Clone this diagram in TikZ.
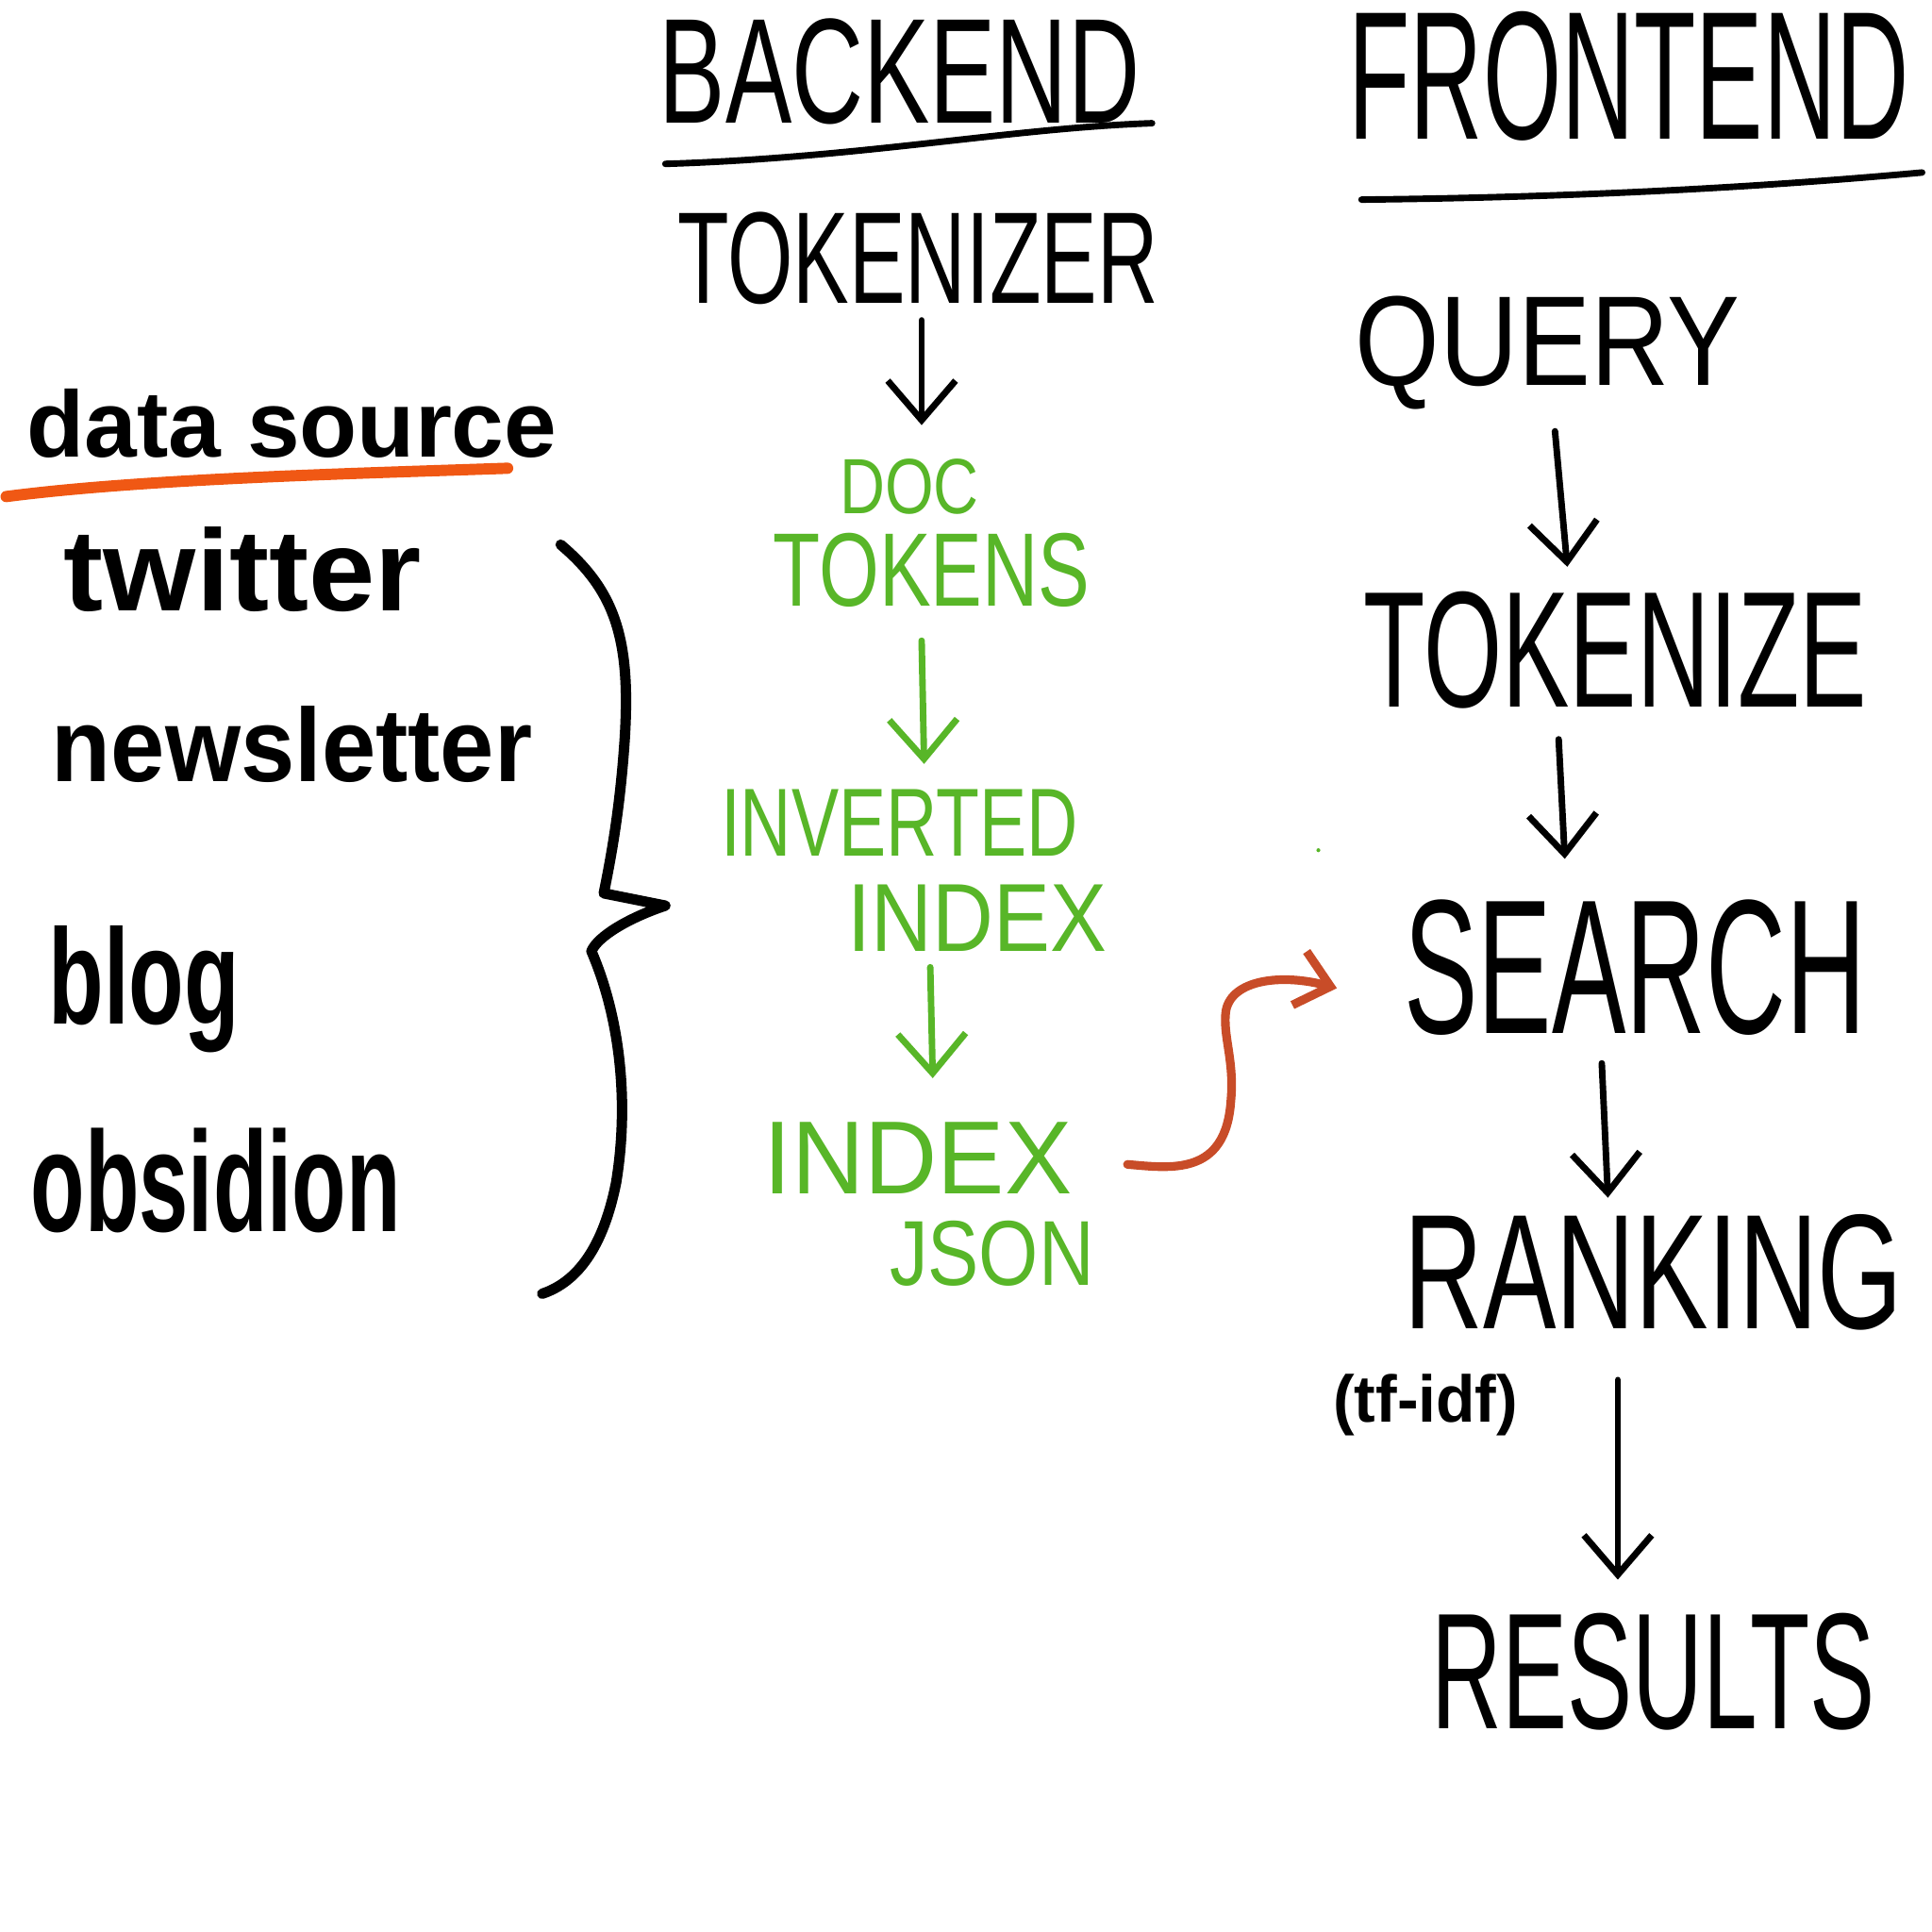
\documentclass[tikz,border=0pt]{standalone}
\usepackage{fontspec}
\setmainfont{Liberation Sans}
\usepackage{graphicx}
\usetikzlibrary{arrows.meta}
\definecolor{hgreen}{RGB}{88,182,40}
\definecolor{horange}{RGB}{240,88,20}
\definecolor{hred}{RGB}{200,76,40}
\newcommand{\hw}[3]{\resizebox*{#1mm}{#2mm}{#3}}
\tikzset{
  lbl/.style={inner sep=0pt, anchor=center},
  blk/.style={lbl, text=black},
  grn/.style={lbl, text=hgreen},
  stroke/.style={line width=1.5pt, line cap=round, line join=round},
  flow/.style={stroke, -{Straight Barb[length=3.2mm,width=5.5mm,line width=1.5pt]}},
}
\begin{document}
\begin{tikzpicture}[x=0.1mm,y=-0.1mm]
\useasboundingbox[fill=white] (0,0) rectangle (1568,1568);

% headings
\node[blk] (backend) at (730,58) {\hw{39}{8.6}{BACKEND}};
\draw[stroke] (540,133) .. controls (700,128) and (820,104) .. (935,100);
\node[blk] (frontend) at (1322,62) {\hw{45.5}{10.5}{FRONTEND}};
\draw[stroke] (1105,162) .. controls (1300,160) and (1450,150) .. (1560,140);

% backend column
\node[blk] (tokenizer) at (745,210) {\hw{39}{7.5}{TOKENIZER}};
\node[grn] (doc) at (738,395) {\hw{11.3}{4.5}{DOC}};
\node[grn] (tokens) at (756,463) {\hw{25.7}{6}{TOKENS}};
\node[grn] (inverted) at (730,668) {\hw{29}{5.4}{INVERTED}};
\node[grn] (index2) at (793,745) {\hw{21}{5.4}{INDEX}};
\node[grn] (indexj) at (745,940) {\hw{25}{5.8}{INDEX}};
\node[grn] (json) at (805,1017) {\hw{16.6}{5.3}{JSON}};

\draw[flow] (748,260) -- (748,345);
\draw[flow, hgreen] (748,520) -- (750,620);
\draw[flow, hgreen] (755,785) -- (757,875);

% data sources
\node[blk] (datasrc) at (237,344) {\hw{43}{5.6}{\bfseries data source}};
\draw[horange, line width=2.6pt, line cap=round] (5,403) .. controls (120,388) and (300,384) .. (412,380);
\node[blk] (twitter) at (197,462) {\hw{29}{6.9}{\bfseries twitter}};
\node[blk] (newsletter) at (237,604) {\hw{39}{6.2}{\bfseries newsletter}};
\node[blk] (blog) at (117,803) {\hw{15.5}{10.3}{\bfseries blog}};
\node[blk] (obsidion) at (175,958) {\hw{30}{8.5}{\bfseries obsidion}};

% brace
\draw[line width=2.4pt, line cap=round, line join=round]
  (455,442) .. controls (500,480) and (512,520) .. (507,600)
  .. controls (503,660) and (495,700) .. (490,725)
  -- (540,735)
  .. controls (510,745) and (485,760) .. (480,772)
  .. controls (505,830) and (510,900) .. (500,960)
  .. controls (490,1010) and (470,1040) .. (440,1050);

% frontend column
\node[blk] (query) at (1256,286) {\hw{31.2}{9.2}{QUERY}};
\node[blk] (tokenize) at (1311,528) {\hw{40.8}{9.5}{TOKENIZE}};
\node[blk] (search) at (1327,785) {\hw{37.5}{11}{SEARCH}};
\node[blk] (ranking) at (1342,1033) {\hw{40.5}{9.4}{RANKING}};
\node[blk] (tfidf) at (1157,1140) {\hw{15}{5}{\bfseries (tf-idf)}};
\node[blk] (results) at (1342,1357) {\hw{36}{9.5}{RESULTS}};

\draw[flow] (1262,350) -- (1272,460);
\draw[flow] (1265,600) -- (1270,697);
\draw[flow] (1300,863) -- (1305,972);
\draw[flow] (1313,1120) -- (1313,1282);

% red connector
\coordinate (redend) at (1085,802);
\draw[stroke, hred, line width=2pt, -{Straight Barb[length=2.6mm,width=4.5mm,line width=2pt]}]
  (915,945) .. controls (950,948) and (995,955) .. (999,893)
  .. controls (1002,860) and (992,840) .. (995,820)
  .. controls (1000,795) and (1040,790) .. (redend);

% stray dot
\fill[hgreen] (1070,690) circle (1.6);
\end{tikzpicture}
\end{document}
